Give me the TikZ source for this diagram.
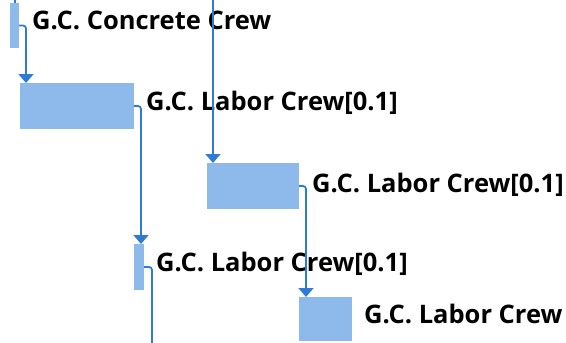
\documentclass[tikz,border=0pt]{standalone}
\usepackage{fontspec}
\setmainfont{Open Sans}
\usetikzlibrary{arrows.meta}
\definecolor{barblue}{HTML}{8DBAEA}
\definecolor{linkblue}{HTML}{2E7BD6}
\begin{document}
\begin{tikzpicture}[x=1pt,y=-1pt,
  bar/.style={fill=barblue, draw=none, inner sep=0pt, outer sep=0pt, anchor=north west},
  lbl/.style={anchor=base west, inner sep=0pt, font=\fontsize{25.5}{30}\selectfont\bfseries, text=black},
  link/.style={draw=linkblue, line width=1.8pt, rounded corners=3pt, -{Triangle[width=15pt,length=9pt]}},
  plainlink/.style={draw=linkblue, line width=1.8pt, rounded corners=3pt}]
\useasboundingbox (0,0) rectangle (566,343);
% bars
\node[bar, minimum width=9pt, minimum height=45pt] (A) at (10,3) {};
\node[bar, minimum width=114pt, minimum height=46pt] (B) at (20,83) {};
\node[bar, minimum width=92pt, minimum height=46pt] (C) at (207,163) {};
\node[bar, minimum width=10pt, minimum height=46pt] (D) at (134,244) {};
\node[bar, minimum width=53pt, minimum height=44pt] (E) at (299,297) {};
% labels
\node[lbl] (LA) at (32,29.5) {G.C. Concrete Crew};
\node[lbl] (LB) at (146,110) {G.C. Labor Crew[0.1]};
\node[lbl] (LC) at (312,192) {G.C. Labor Crew[0.1]};
\node[lbl] (LD) at (156,271) {G.C. Labor Crew[0.1]};
\node[lbl] (LE) at (364,323) {G.C. Labor Crew};
% free ends
\coordinate (topA) at (15,-2);
\coordinate (topC) at (213,-2);
\coordinate (botD) at (152,350);
% connectors
\draw[plainlink] (topA) -- (A.north -| topA);
\draw[link] (topC) -- ([xshift=6pt]C.north west);
\draw[link] (A.east) -| ([xshift=6pt]B.north west);
\draw[link] (B.east) -| ([xshift=7pt]D.north west);
\draw[link] (C.east) -| ([xshift=7pt]E.north west);
\draw[plainlink] (D.east) -| (botD);
\end{tikzpicture}
\end{document}
